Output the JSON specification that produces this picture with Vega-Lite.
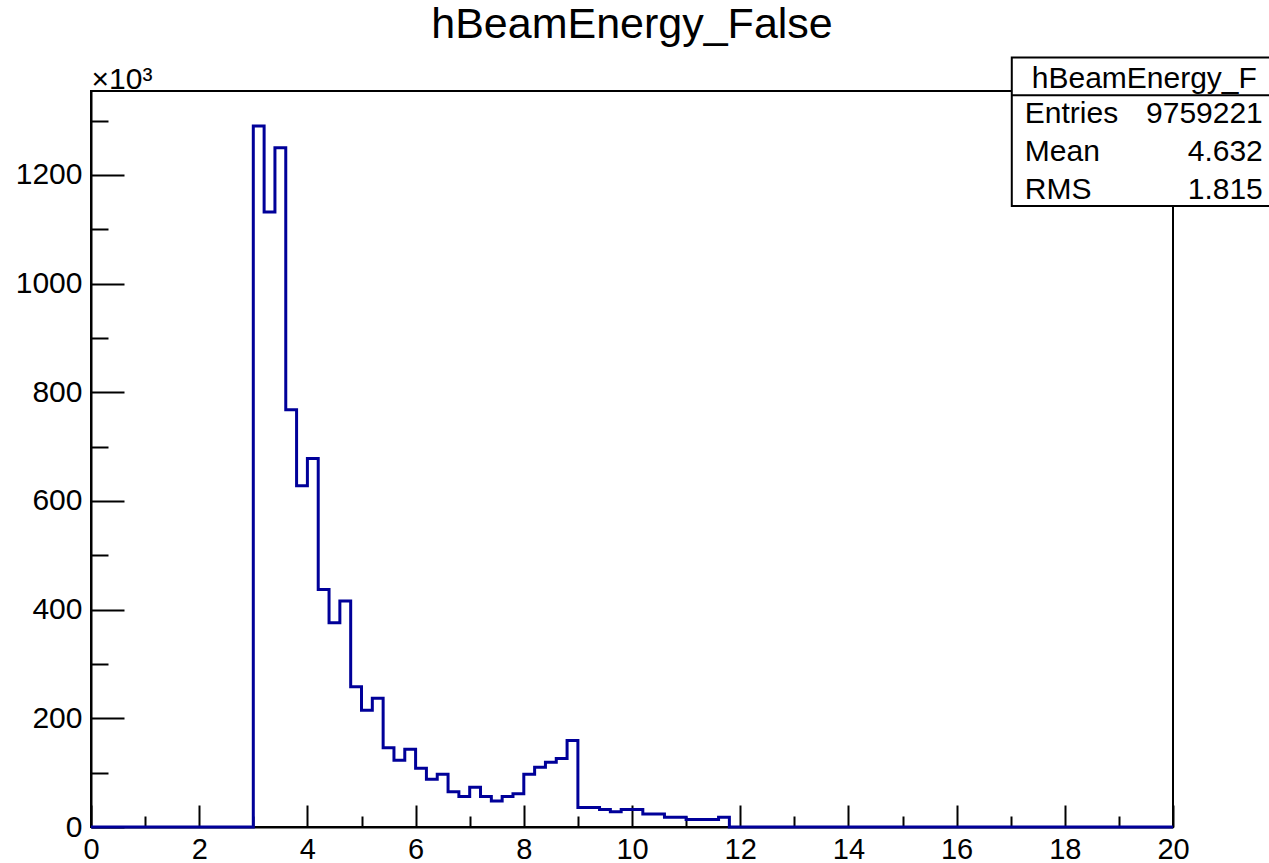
{
  "$schema": "https://vega.github.io/schema/vega-lite/v6.json",
  "width": 1082,
  "height": 736,
  "autosize": "none",
  "padding": {"left": 91, "top": 91, "right": 96, "bottom": 36},
  "background": "white",
  "config": {
    "font": "Liberation Sans",
    "view": {"stroke": "black", "strokeWidth": 2}
  },
  "title": {
    "text": "hBeamEnergy_False",
    "font": "Liberation Sans",
    "fontSize": 43,
    "fontWeight": "normal",
    "color": "black",
    "anchor": "middle",
    "baseline": "alphabetic",
    "offset": -24
  },
  "datasets": {
    "hist": [
      {"energy": 0.0, "entries_k": 0}, {"energy": 0.2, "entries_k": 0}, {"energy": 0.4, "entries_k": 0},
      {"energy": 0.6, "entries_k": 0}, {"energy": 0.8, "entries_k": 0}, {"energy": 1.0, "entries_k": 0},
      {"energy": 1.2, "entries_k": 0}, {"energy": 1.4, "entries_k": 0}, {"energy": 1.6, "entries_k": 0},
      {"energy": 1.8, "entries_k": 0}, {"energy": 2.0, "entries_k": 0}, {"energy": 2.2, "entries_k": 0},
      {"energy": 2.4, "entries_k": 0}, {"energy": 2.6, "entries_k": 0}, {"energy": 2.8, "entries_k": 0},
      {"energy": 3.0, "entries_k": 1290}, {"energy": 3.2, "entries_k": 1132}, {"energy": 3.4, "entries_k": 1250},
      {"energy": 3.6, "entries_k": 768}, {"energy": 3.8, "entries_k": 628}, {"energy": 4.0, "entries_k": 678},
      {"energy": 4.2, "entries_k": 437}, {"energy": 4.4, "entries_k": 376}, {"energy": 4.6, "entries_k": 416},
      {"energy": 4.8, "entries_k": 258}, {"energy": 5.0, "entries_k": 215}, {"energy": 5.2, "entries_k": 237},
      {"energy": 5.4, "entries_k": 146}, {"energy": 5.6, "entries_k": 123}, {"energy": 5.8, "entries_k": 143},
      {"energy": 6.0, "entries_k": 108}, {"energy": 6.2, "entries_k": 88}, {"energy": 6.4, "entries_k": 97},
      {"energy": 6.6, "entries_k": 65}, {"energy": 6.8, "entries_k": 56}, {"energy": 7.0, "entries_k": 73},
      {"energy": 7.2, "entries_k": 56}, {"energy": 7.4, "entries_k": 48}, {"energy": 7.6, "entries_k": 56},
      {"energy": 7.8, "entries_k": 61}, {"energy": 8.0, "entries_k": 97}, {"energy": 8.2, "entries_k": 110},
      {"energy": 8.4, "entries_k": 119}, {"energy": 8.6, "entries_k": 126}, {"energy": 8.8, "entries_k": 159},
      {"energy": 9.0, "entries_k": 36}, {"energy": 9.2, "entries_k": 36}, {"energy": 9.4, "entries_k": 32},
      {"energy": 9.6, "entries_k": 28}, {"energy": 9.8, "entries_k": 32}, {"energy": 10.0, "entries_k": 32},
      {"energy": 10.2, "entries_k": 24}, {"energy": 10.4, "entries_k": 24}, {"energy": 10.6, "entries_k": 18},
      {"energy": 10.8, "entries_k": 18}, {"energy": 11.0, "entries_k": 14}, {"energy": 11.2, "entries_k": 14},
      {"energy": 11.4, "entries_k": 14}, {"energy": 11.6, "entries_k": 18}, {"energy": 11.8, "entries_k": 0},
      {"energy": 12.0, "entries_k": 0}, {"energy": 12.2, "entries_k": 0}, {"energy": 12.4, "entries_k": 0},
      {"energy": 12.6, "entries_k": 0}, {"energy": 12.8, "entries_k": 0}, {"energy": 13.0, "entries_k": 0},
      {"energy": 13.2, "entries_k": 0}, {"energy": 13.4, "entries_k": 0}, {"energy": 13.6, "entries_k": 0},
      {"energy": 13.8, "entries_k": 0}, {"energy": 14.0, "entries_k": 0}, {"energy": 14.2, "entries_k": 0},
      {"energy": 14.4, "entries_k": 0}, {"energy": 14.6, "entries_k": 0}, {"energy": 14.8, "entries_k": 0},
      {"energy": 15.0, "entries_k": 0}, {"energy": 15.2, "entries_k": 0}, {"energy": 15.4, "entries_k": 0},
      {"energy": 15.6, "entries_k": 0}, {"energy": 15.8, "entries_k": 0}, {"energy": 16.0, "entries_k": 0},
      {"energy": 16.2, "entries_k": 0}, {"energy": 16.4, "entries_k": 0}, {"energy": 16.6, "entries_k": 0},
      {"energy": 16.8, "entries_k": 0}, {"energy": 17.0, "entries_k": 0}, {"energy": 17.2, "entries_k": 0},
      {"energy": 17.4, "entries_k": 0}, {"energy": 17.6, "entries_k": 0}, {"energy": 17.8, "entries_k": 0},
      {"energy": 18.0, "entries_k": 0}, {"energy": 18.2, "entries_k": 0}, {"energy": 18.4, "entries_k": 0},
      {"energy": 18.6, "entries_k": 0}, {"energy": 18.8, "entries_k": 0}, {"energy": 19.0, "entries_k": 0},
      {"energy": 19.2, "entries_k": 0}, {"energy": 19.4, "entries_k": 0}, {"energy": 19.6, "entries_k": 0},
      {"energy": 19.8, "entries_k": 0}, {"energy": 20.0, "entries_k": 0}
    ],
    "one": [{}]
  },
  "layer": [
    {
      "data": {"name": "hist"},
      "mark": {"type": "line", "interpolate": "step-after", "color": "#000099", "strokeWidth": 3, "clip": false},
      "encoding": {
        "x": {
          "field": "energy",
          "type": "quantitative",
          "scale": {"domain": [0, 20], "nice": false, "zero": false},
          "axis": {
            "title": null,
            "grid": false,
            "values": [0, 0.5, 1, 1.5, 2, 2.5, 3, 3.5, 4, 4.5, 5, 5.5, 6, 6.5, 7, 7.5, 8, 8.5, 9, 9.5, 10, 10.5, 11, 11.5, 12, 12.5, 13, 13.5, 14, 14.5, 15, 15.5, 16, 16.5, 17, 17.5, 18, 18.5, 19, 19.5, 20],
            "domainColor": "black",
            "domainWidth": 2,
            "tickColor": "black",
            "tickWidth": 2,
            "tickSize": {"condition": {"test": "datum.value % 2 === 0", "value": -22}, "value": -11},
            "labelPadding": 30,
            "labelExpr": "datum.value % 2 === 0 ? format(datum.value, 'd') : ''",
            "labelFont": "Liberation Sans",
            "labelFontSize": 29,
            "labelColor": "black",
            "labelBaseline": "top",
            "labelFlush": false,
            "labelOverlap": false
          }
        },
        "y": {
          "field": "entries_k",
          "type": "quantitative",
          "scale": {"domain": [0, 1354.5], "nice": false},
          "axis": {
            "title": "×10³",
            "titleAngle": 0,
            "titleAlign": "left",
            "titleBaseline": "alphabetic",
            "titleX": 0,
            "titleY": -3,
            "titleFont": "Liberation Sans",
            "titleFontSize": 30,
            "titleFontWeight": "normal",
            "titleColor": "black",
            "grid": false,
            "values": [0, 50, 100, 150, 200, 250, 300, 350, 400, 450, 500, 550, 600, 650, 700, 750, 800, 850, 900, 950, 1000, 1050, 1100, 1150, 1200, 1250, 1300, 1350],
            "domainColor": "black",
            "domainWidth": 2,
            "tickColor": "black",
            "tickWidth": 2,
            "tickSize": {"condition": {"test": "datum.value % 200 === 0", "value": -33}, "value": -17},
            "labelPadding": 42,
            "labelExpr": "datum.value % 200 === 0 ? format(datum.value, 'd') : ''",
            "labelFont": "Liberation Sans",
            "labelFontSize": 30,
            "labelColor": "black",
            "labelFlush": false,
            "labelOverlap": false
          }
        }
      }
    },
    {
      "data": {"name": "one"},
      "mark": {"type": "rect", "fill": "white", "stroke": "black", "strokeWidth": 2, "clip": false},
      "encoding": {
        "x": {"datum": 17.02},
        "x2": {"datum": 22},
        "y": {"datum": 1416},
        "y2": {"datum": 1143}
      }
    },
    {
      "data": {"name": "one"},
      "mark": {"type": "rule", "stroke": "black", "strokeWidth": 2, "clip": false},
      "encoding": {
        "x": {"datum": 17.02},
        "x2": {"datum": 22},
        "y": {"datum": 1346.6}
      }
    },
    {
      "data": {"name": "one"},
      "mark": {"type": "text", "align": "center", "baseline": "alphabetic", "fontSize": 30, "font": "Liberation Sans", "color": "black", "clip": false},
      "encoding": {"x": {"datum": 19.47}, "y": {"datum": 1360.7}, "text": {"value": "hBeamEnergy_F"}}
    },
    {
      "data": {"name": "one"},
      "mark": {"type": "text", "align": "left", "baseline": "alphabetic", "fontSize": 30, "font": "Liberation Sans", "color": "black", "clip": false},
      "encoding": {"x": {"datum": 17.26}, "y": {"datum": 1295}, "text": {"value": "Entries"}}
    },
    {
      "data": {"name": "one"},
      "mark": {"type": "text", "align": "left", "baseline": "alphabetic", "fontSize": 30, "font": "Liberation Sans", "color": "black", "clip": false},
      "encoding": {"x": {"datum": 17.26}, "y": {"datum": 1225}, "text": {"value": "Mean"}}
    },
    {
      "data": {"name": "one"},
      "mark": {"type": "text", "align": "left", "baseline": "alphabetic", "fontSize": 30, "font": "Liberation Sans", "color": "black", "clip": false},
      "encoding": {"x": {"datum": 17.26}, "y": {"datum": 1155}, "text": {"value": "RMS"}}
    },
    {
      "data": {"name": "one"},
      "mark": {"type": "text", "align": "right", "baseline": "alphabetic", "fontSize": 30, "font": "Liberation Sans", "color": "black", "clip": false},
      "encoding": {"x": {"datum": 21.66}, "y": {"datum": 1295}, "text": {"value": "9759221"}}
    },
    {
      "data": {"name": "one"},
      "mark": {"type": "text", "align": "right", "baseline": "alphabetic", "fontSize": 30, "font": "Liberation Sans", "color": "black", "clip": false},
      "encoding": {"x": {"datum": 21.66}, "y": {"datum": 1225}, "text": {"value": "4.632"}}
    },
    {
      "data": {"name": "one"},
      "mark": {"type": "text", "align": "right", "baseline": "alphabetic", "fontSize": 30, "font": "Liberation Sans", "color": "black", "clip": false},
      "encoding": {"x": {"datum": 21.66}, "y": {"datum": 1155}, "text": {"value": "1.815"}}
    }
  ]
}
